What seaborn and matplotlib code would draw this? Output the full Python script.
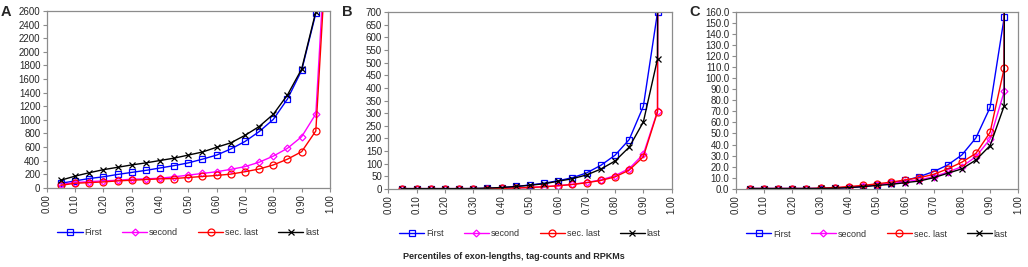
import pandas as pd
import seaborn as sns
import matplotlib.pyplot as plt

# percentiles (last point = maximum, drawn off the top of the axis)
pct = [0.05, 0.10, 0.15, 0.20, 0.25, 0.30, 0.35, 0.40, 0.45, 0.50,
       0.55, 0.60, 0.65, 0.70, 0.75, 0.80, 0.85, 0.90, 0.95, 1.00]

# A: exon lengths
a_first = [65, 100, 135, 160, 195, 225, 255, 290, 325, 365,
           420, 480, 570, 680, 825, 1005, 1305, 1725, 2565, 20000]
a_second = [50, 75, 90, 100, 110, 125, 130, 140, 160, 185,
            210, 235, 270, 310, 375, 465, 580, 750, 1085, 4700]
a_seclast = [35, 65, 75, 85, 100, 110, 120, 130, 135, 150,
             165, 180, 200, 235, 275, 335, 420, 530, 835, 4400]
a_last = [110, 170, 220, 265, 300, 335, 365, 400, 435, 480,
          525, 595, 660, 770, 900, 1080, 1365, 1745, 2590, 20000]

# B: tag counts
b_first = [0.5, 0.5, 0.5, 0.5, 0.5, 0.5, 2, 4, 9, 15,
           22, 32, 44, 63, 93, 133, 195, 327, 700, 50000]
b_second = [0.5, 0.5, 0.5, 0.5, 0.5, 0.5, 0.5, 1.5, 3, 5,
            8, 12, 18, 25, 35, 52, 80, 137, 308, 50000]
b_seclast = [0.5, 0.5, 0.5, 0.5, 0.5, 0.5, 0.5, 1.5, 3, 5,
             8, 12, 17, 24, 33, 47, 74, 127, 305, 50000]
b_last = [0.5, 0.5, 0.5, 0.5, 0.5, 1, 2.5, 5, 9, 14,
          20, 30, 40, 55, 78, 110, 165, 265, 515, 50000]

# C: RPKMs
c_first = [0.2, 0.2, 0.2, 0.2, 0.2, 0.2, 0.5, 1, 2, 3.5,
           5, 7.5, 11, 15.5, 21.5, 30.5, 46, 73.5, 155, 10000]
c_second = [0.2, 0.2, 0.2, 0.2, 0.2, 0.3, 0.8, 1.5, 2.5, 3.5,
            5, 6.5, 8, 11, 15, 20, 29, 45, 88, 10000]
c_seclast = [0.2, 0.2, 0.2, 0.2, 0.2, 0.5, 1, 2, 3, 4.5,
             6, 8, 10, 13, 18, 24, 32, 51, 109, 10000]
c_last = [0.2, 0.2, 0.2, 0.2, 0.2, 0.3, 0.5, 1, 2, 3,
          4, 5.5, 7, 10, 14, 18, 26, 39, 75, 10000]

series_names = ["First", "second", "sec. last", "last"]
colors = ["#0000ff", "#ff00ff", "#ff0000", "#000000"]
markers = ["s", "D", "o", "x"]
msizes = [5, 3.5, 5, 5]

panels = [
    ("A", [a_first, a_second, a_seclast, a_last], 2600, 200, "{:.0f}"),
    ("B", [b_first, b_second, b_seclast, b_last], 700, 50, "{:.0f}"),
    ("C", [c_first, c_second, c_seclast, c_last], 160, 10, "{:.1f}"),
]

sns.set_style("white")
plt.rcParams["font.family"] = ["Liberation Sans", "DejaVu Sans"]
plt.rcParams["font.size"] = 7

fig = plt.figure(figsize=(10.28, 2.67), dpi=100)
rects = [(0.0454, 0.297, 0.2756, 0.662),
         (0.3777, 0.293, 0.2757, 0.661),
         (0.7157, 0.293, 0.2749, 0.663)]

for (letter, vals, ymax, ystep, fmt), rect in zip(panels, rects):
    ax = fig.add_axes(rect)
    df = pd.DataFrame({"pct": pct * 4,
                       "value": sum(vals, []),
                       "series": [n for n in series_names for _ in pct]})
    for name, col, mk, ms in zip(series_names, colors, markers, msizes):
        sub = df[df.series == name]
        sns.lineplot(data=sub, x="pct", y="value", ax=ax, color=col,
                     marker=mk, markersize=ms, markerfacecolor="none",
                     markeredgecolor=col, markeredgewidth=0.9,
                     linewidth=1.0, label=name)
    ax.set_xlim(0, 1.0)
    ax.set_ylim(0, ymax)
    ax.set_xticks([i / 10 for i in range(11)])
    ax.set_xticklabels(["{:.2f}".format(i / 10) for i in range(11)], rotation=90)
    yt = list(range(0, ymax + 1, ystep))
    ax.set_yticks(yt)
    ax.set_yticklabels([fmt.format(v) for v in yt])
    ax.set_xlabel("")
    ax.set_ylabel("")
    for sp in ax.spines.values():
        sp.set_color("#8c8c8c")
        sp.set_linewidth(0.9)
    ax.tick_params(axis="both", direction="out", length=3, width=0.8,
                   color="#8c8c8c", labelsize=7, pad=1.5, bottom=True, left=True)
    leg = ax.legend(loc="center", bbox_to_anchor=(0.5, -0.256), ncol=4, frameon=False,
                    fontsize=6.5, handlelength=2.8, handletextpad=0.2, columnspacing=2.2)
    for t in leg.get_texts():
        t.set_color("#333333")
    fig.text(rect[0] - 0.045, 0.955, letter, fontsize=10.5, fontweight="bold",
             ha="left", va="center")

fig.text(0.5, 0.0375, "Percentiles of exon-lengths, tag-counts and RPKMs",
         ha="center", va="center", fontsize=6.5, fontweight="bold")

fig.savefig("out.png", dpi=100)
